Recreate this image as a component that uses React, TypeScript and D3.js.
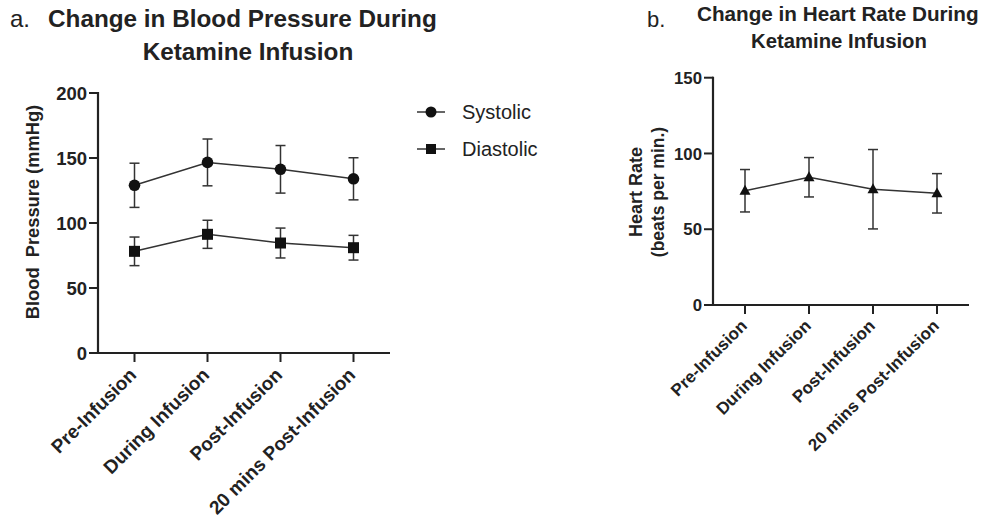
import React from "react";
import * as d3 from "d3";

const categories = ["Pre-Infusion", "During Infusion", "Post-Infusion", "20 mins Post-Infusion"];
const systolicMean = [129, 146.6, 141.3, 134];
const systolicSD = [17, 18, 18.3, 16.2];
const diastolicMean = [78.2, 91.3, 84.6, 81];
const diastolicSD = [11, 10.8, 11.5, 9.5];
const heartRateMean = [75.4, 84.3, 76.4, 73.7];
const heartRateSD = [14, 13, 26.2, 13];
const bpTicks = [0, 50, 100, 150, 200];
const hrTicks = [0, 50, 100, 150];

const FONT = "'Liberation Sans', Arial, Helvetica, sans-serif";
const INK = "#222";
const LINE = "#333";

type Series = { mean: number[]; sd: number[]; shape: "circle" | "square" | "triangle" };

function Marker({ shape, x, y, s }: { shape: string; x: number; y: number; s: number }) {
  if (shape === "circle") return <circle cx={x} cy={y} r={s} fill="#111" />;
  if (shape === "square") return <rect x={x - s} y={y - s} width={2 * s} height={2 * s} fill="#111" />;
  const h = s * 1.8;
  return (
    <path
      d={`M${x},${y - h * 0.6}L${x + s},${y + h * 0.4}L${x - s},${y + h * 0.4}Z`}
      fill="#111"
    />
  );
}

function Panel({
  x0, x1, y0, y1, yMax, ticks, series, tickFont, xFont, xlabDy, markerSize, capW,
}: {
  x0: number; x1: number; y0: number; y1: number; yMax: number; ticks: number[];
  series: Series[]; tickFont: number; xFont: number; xlabDy: number; markerSize: number[]; capW: number;
}) {
  const x = d3.scalePoint<string>().domain(categories).range([x0, x1]).padding(0.5);
  const y = d3.scaleLinear().domain([0, yMax]).range([y0, y1]);
  const line = d3.line<number>().x((_, i) => x(categories[i])!).y((d) => y(d));
  return (
    <g>
      {series.map((s, si) => (
        <g key={si}>
          <path d={line(s.mean)!} fill="none" stroke={LINE} strokeWidth={1.5} />
          {s.mean.map((m, i) => {
            const cx = x(categories[i])!;
            const yt = y(m + s.sd[i]);
            const yb = y(m - s.sd[i]);
            return (
              <g key={i} stroke={LINE} strokeWidth={1.5}>
                <line x1={cx} x2={cx} y1={yt} y2={yb} />
                <line x1={cx - capW / 2} x2={cx + capW / 2} y1={yt} y2={yt} />
                <line x1={cx - capW / 2} x2={cx + capW / 2} y1={yb} y2={yb} />
              </g>
            );
          })}
          {s.mean.map((m, i) => (
            <Marker key={"m" + i} shape={s.shape} x={x(categories[i])!} y={y(m)} s={markerSize[si]} />
          ))}
        </g>
      ))}
      <line x1={x0} x2={x0} y1={y1 - 1} y2={y0 + 1} stroke={INK} strokeWidth={2.2} />
      <line x1={x0 - 1} x2={x1} y1={y0} y2={y0} stroke={INK} strokeWidth={2.2} />
      {ticks.map((t) => (
        <g key={t}>
          <line x1={x0 - 9} x2={x0} y1={y(t)} y2={y(t)} stroke={INK} strokeWidth={2} />
          <text
            x={x0 - 11}
            y={y(t)}
            dy="0.36em"
            textAnchor="end"
            fontFamily={FONT}
            fontWeight="bold"
            fontSize={tickFont}
            fill={INK}
          >
            {t}
          </text>
        </g>
      ))}
      {categories.map((c) => {
        const cx = x(c)!;
        return (
          <g key={c}>
            <line x1={cx} x2={cx} y1={y0} y2={y0 + 9} stroke={INK} strokeWidth={2} />
            <text
              transform={`translate(${cx + 3},${y0 + xlabDy}) rotate(-45)`}
              textAnchor="end"
              fontFamily={FONT}
              fontWeight="bold"
              fontSize={xFont}
              fill={INK}
            >
              {c}
            </text>
          </g>
        );
      })}
    </g>
  );
}

export default function App() {
  return (
    <svg
      width={989}
      height={524}
      style={{ position: "absolute", left: 0, top: 0, background: "#fff" }}
    >
      <rect width={989} height={524} fill="#fff" />
      <text x={10} y={27} fontFamily={FONT} fontSize={24} fill={INK}>a.</text>
      <text x={48} y={27} fontFamily={FONT} fontWeight="bold" fontSize={24.3} fill={INK}>
        Change in Blood Pressure During
      </text>
      <text x={248} y={60} textAnchor="middle" fontFamily={FONT} fontWeight="bold" fontSize={24.3} fill={INK}>
        Ketamine Infusion
      </text>
      <text
        transform="translate(39,212) rotate(-90)"
        textAnchor="middle"
        fontFamily={FONT}
        fontWeight="bold"
        fontSize={18.3}
        fill={INK}
        style={{ whiteSpace: "pre" }}
      >
        {"Blood  Pressure (mmHg)"}
      </text>
      <Panel
        x0={98}
        x1={390}
        y0={353}
        y1={93}
        yMax={200}
        ticks={bpTicks}
        series={[
          { mean: systolicMean, sd: systolicSD, shape: "circle" },
          { mean: diastolicMean, sd: diastolicSD, shape: "square" },
        ]}
        tickFont={18.5}
        xFont={19}
        xlabDy={23}
        markerSize={[5.8, 5.5]}
        capW={10}
      />
      <line x1={417} x2={445} y1={112} y2={112} stroke={LINE} strokeWidth={1.5} />
      <Marker shape="circle" x={431} y={112} s={5.5} />
      <text x={462} y={119} fontFamily={FONT} fontSize={20} fill={INK}>Systolic</text>
      <line x1={417} x2={445} y1={149} y2={149} stroke={LINE} strokeWidth={1.5} />
      <Marker shape="square" x={431} y={149} s={5} />
      <text x={462} y={156} fontFamily={FONT} fontSize={20} fill={INK}>Diastolic</text>

      <text x={647} y={27} fontFamily={FONT} fontSize={22} fill={INK}>b.</text>
      <text x={697} y={21} fontFamily={FONT} fontWeight="bold" fontSize={20.7} fill={INK}>
        Change in Heart Rate During
      </text>
      <text x={839} y={48} textAnchor="middle" fontFamily={FONT} fontWeight="bold" fontSize={20.3} fill={INK}>
        Ketamine Infusion
      </text>
      <text
        transform="translate(642,192) rotate(-90)"
        textAnchor="middle"
        fontFamily={FONT}
        fontWeight="bold"
        fontSize={18}
        fill={INK}
      >
        Heart Rate
      </text>
      <text
        transform="translate(664,192) rotate(-90)"
        textAnchor="middle"
        fontFamily={FONT}
        fontWeight="bold"
        fontSize={17.5}
        fill={INK}
      >
        (beats per min.)
      </text>
      <Panel
        x0={713}
        x1={969}
        y0={305}
        y1={77.7}
        yMax={150}
        ticks={hrTicks}
        series={[{ mean: heartRateMean, sd: heartRateSD, shape: "triangle" }]}
        tickFont={16.8}
        xFont={17}
        xlabDy={22}
        markerSize={[5.5]}
        capW={10}
      />
    </svg>
  );
}
